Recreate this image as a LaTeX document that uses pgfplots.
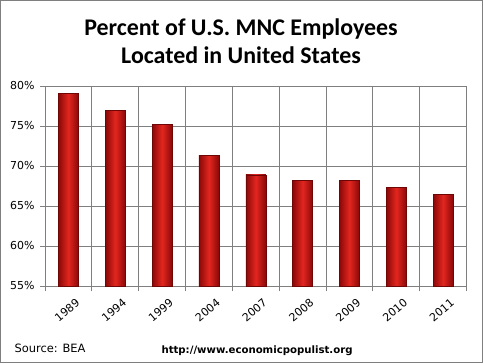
\documentclass[border=0pt]{standalone}
\usepackage{pgfplots}
\pgfplotsset{compat=1.18}
\usepackage{fontspec}
\setmainfont{Carlito}
\newfontfamily\dejavu{DejaVu Sans}
\definecolor{gridc}{HTML}{7F7F7F}
\definecolor{bardark}{HTML}{8A0808}
\definecolor{barmid}{HTML}{E3261F}
\begin{document}
\begin{tikzpicture}[x=1bp,y=1bp]
\draw[gridc, line width=1bp] (0.5,0.5) rectangle (482.5,362.5);
\node[font=\bfseries\fontsize{24}{28}\selectfont, align=center] at (241,322) {Percent of U.S. MNC Employees\\Located in United States};
\node[font=\dejavu\fontsize{11.5}{13}\selectfont, anchor=base west] at (11,11) {Source: BEA};
\node[font=\dejavu\bfseries\fontsize{10.2}{12}\selectfont, anchor=base west] at (158,10) {http://www.economicpopulist.org};
\begin{axis}[
  at={(45bp,77bp)}, anchor=south west,
  scale only axis, width=421.5bp, height=200bp,
  xmin=-0.5, xmax=8.5, ymin=55, ymax=80,
  ytick={55,60,...,80},
  yticklabel={\pgfmathprintnumber{\tick}\%},
  /pgf/number format/assume math mode=true,
  xtick={0,...,8},
  xticklabels={1989,1994,1999,2004,2007,2008,2009,2010,2011},
  minor xtick={-0.5,0.5,...,8.5},
  xminorgrids=true, ymajorgrids=true,
  major x tick style={draw=none},
  minor tick length=5bp, major tick length=5bp,
  tick align=outside,
  xtick pos=bottom, ytick pos=left,
  tick style={gridc, line width=0.8bp},
  grid style={gridc, line width=0.8bp},
  minor grid style={gridc, line width=0.8bp},
  axis line style={gridc, line width=0.8bp},
  tick label style={font=\dejavu\fontsize{11}{12}\selectfont},
  xticklabel style={font=\dejavu\fontsize{11}{12}\selectfont, rotate=40, anchor=east, xshift=4bp, yshift=-14bp},
  yticklabel style={xshift=-2bp},
  ybar, bar width=20bp, bar shift=0pt,
  barsty/.style={draw=bardark!80!black, line width=0.3bp, left color=bardark, right color=bardark, middle color=barmid},
]
\addplot[barsty] coordinates {(0,79.1)};
\addplot[barsty] coordinates {(1,77.0)};
\addplot[barsty] coordinates {(2,75.25)};
\addplot[barsty] coordinates {(3,71.3)};
\addplot[barsty] coordinates {(4,68.9)};
\addplot[barsty] coordinates {(5,68.2)};
\addplot[barsty] coordinates {(6,68.2)};
\addplot[barsty] coordinates {(7,67.3)};
\addplot[barsty] coordinates {(8,66.45)};
\end{axis}
\end{tikzpicture}
\end{document}
